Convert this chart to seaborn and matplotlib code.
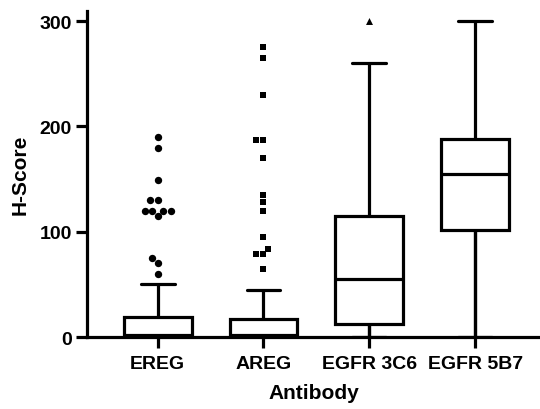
import numpy as np
import pandas as pd
import matplotlib
matplotlib.use("Agg")
import matplotlib.pyplot as plt
import seaborn as sns

# ---- data ----
categories = ["EREG", "AREG", "EGFR 3C6", "EGFR 5B7"]
whisker_low = [0, 0, 0, 0]
q1 = [0, 0, 12, 102]
median = [2, 2, 55, 155]
q3 = [19, 17, 115, 188]
whisker_high = [50, 45, 260, 300]

ereg_outliers = [190, 180, 149, 130, 130, 120, 120, 120, 120, 115, 75, 70, 60]
areg_outliers = [275, 265, 230, 187, 187, 170, 135, 128, 120, 95, 84, 79, 79, 65]
egfr3c6_outliers = [300]

yticks = [0, 100, 200, 300]

# ---- build long table of summary values (5 values -> exact quartiles) ----
rows = []
for i, c in enumerate(categories):
    for v in (whisker_low[i], q1[i], median[i], q3[i], whisker_high[i]):
        rows.append({"Antibody": c, "H-Score": v})
df = pd.DataFrame(rows)

sns.set_theme(style="white")
plt.rcParams["font.family"] = ["Liberation Sans", "DejaVu Sans"]
plt.rcParams["font.weight"] = "bold"

fig = plt.figure(figsize=(5.4, 4.1), dpi=100)
ax = fig.add_axes([0.161, 0.1756, 0.839, 0.796])

lw = 2.3


def swarm(vals, cat, marker, size):
    sub = pd.DataFrame({"Antibody": [cat] * len(vals), "H-Score": vals})
    sns.swarmplot(data=sub, x="Antibody", y="H-Score", order=categories,
                  marker=marker, color="black", size=size, linewidth=0, ax=ax)


swarm(ereg_outliers, "EREG", "o", 5.3)
swarm(areg_outliers, "AREG", "s", 5.0)
swarm(egfr3c6_outliers, "EGFR 3C6", "^", 5.0)

sns.boxplot(data=df, x="Antibody", y="H-Score", order=categories,
            whis=(0, 100), width=0.64, color="white", linecolor="black",
            linewidth=lw, showfliers=False, ax=ax,
            whiskerprops={"zorder": 3}, capprops={"zorder": 3},
            medianprops={"zorder": 3})

# lower whiskers reinforced on the categorical positions (q1 -> lower whisker)
ax.vlines(np.arange(len(categories)), whisker_low, q1, colors="black",
          linewidth=lw, zorder=4, clip_on=False)

ax.set_xlim(-0.668, 3.613)
ax.set_ylim(0, 310)
ax.set_yticks(yticks)

for s in ("top", "right"):
    ax.spines[s].set_visible(False)
for s in ("left", "bottom"):
    ax.spines[s].set_linewidth(lw)
    ax.spines[s].set_color("black")
    ax.spines[s].set_zorder(5)

ax.tick_params(axis="both", which="major", length=8, width=lw, color="black",
               labelsize=14, labelcolor="black")
ax.tick_params(axis="y", pad=3, left=True)
ax.tick_params(axis="x", pad=5, bottom=True)
for lab in ax.get_xticklabels() + ax.get_yticklabels():
    lab.set_fontweight("bold")

ax.set_xlabel("Antibody", fontsize=15, fontweight="bold", labelpad=8, color="black")
ax.set_ylabel("H-Score", fontsize=15, fontweight="bold", labelpad=7, color="black")

fig.savefig("out.png", dpi=100)
